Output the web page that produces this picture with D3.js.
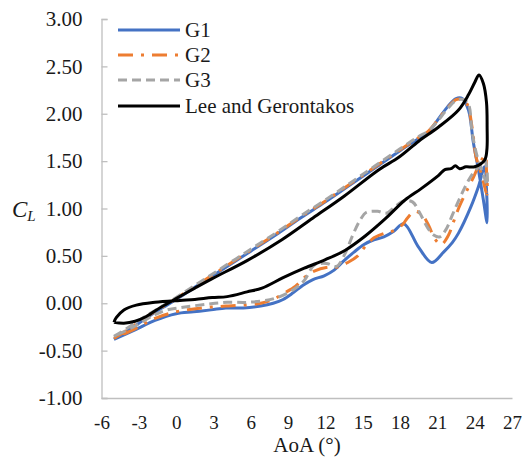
<!DOCTYPE html>
<html>
<head>
<meta charset="utf-8">
<script src="https://cdn.jsdelivr.net/npm/d3@7"></script>
<style>
  html, body { margin: 0; padding: 0; background: #fff; }
  svg { display: block; }
  text { font-family: "Liberation Serif", "Times New Roman", serif; fill: #1a1a1a; }
</style>
</head>
<body>
<svg id="chart" width="522" height="461"></svg>
<script>
// Lift coefficient loops over one pitching cycle (upstroke then downstroke)
const g1Aoa = [-5,-4,-3,-2,-1,0,2,4,6,8,10,12,14,16,18,19.5,20.3,21.0,21.8,22.5,23.0,23.5,23.9,24.3,24.7,25.0,
  24.95,24.8,24.3,23.7,22.7,22.2,21.5,20.55,19.5,18.3,17.5,16.7,15.9,15.1,14.3,13.5,12.7,11.9,11.0,10.2,9.4,8.6,7.8,6.8,5.4,4.0,2.8,1.4,0,-1.7,-3.3,-5];
const g1Cl = [-0.38,-0.30,-0.21,-0.12,-0.04,0.04,0.21,0.38,0.55,0.72,0.90,1.07,1.25,1.43,1.61,1.74,1.81,1.93,2.07,2.16,2.16,2.04,1.69,1.41,1.09,0.85,
  1.20,1.44,1.23,1.02,0.74,0.64,0.54,0.43,0.59,0.84,0.76,0.70,0.67,0.62,0.54,0.45,0.35,0.29,0.25,0.19,0.11,0.04,0.00,-0.03,-0.05,-0.05,-0.07,-0.09,-0.11,-0.18,-0.28,-0.38];

const g2Aoa = [-5,-4,-3,-2,-1,0,2,4,6,8,10,12,14,16,18,19.5,20.3,21.0,21.8,22.5,23.0,23.4,23.8,24.1,24.5,25.0,
  24.95,24.85,24.5,23.9,23.3,22.7,22.3,21.9,21.3,20.8,20.3,19.8,19.2,18.6,18.2,17.4,16.8,15.9,15.2,14.6,13.8,12.9,12.2,11.1,10.4,9.6,8.6,7.8,6.8,5.4,4.0,2.8,1.4,0,-1.7,-3.3,-5];
const g2Cl = [-0.37,-0.29,-0.20,-0.11,-0.03,0.05,0.22,0.39,0.56,0.73,0.91,1.08,1.26,1.44,1.62,1.75,1.82,1.93,2.06,2.15,2.15,2.10,1.85,1.55,1.38,1.15,
  1.40,1.56,1.50,1.33,1.17,1.00,0.86,0.72,0.62,0.68,0.82,0.93,0.97,0.90,0.83,0.76,0.74,0.69,0.60,0.50,0.43,0.38,0.38,0.34,0.28,0.18,0.10,0.04,0.00,-0.02,-0.03,-0.04,-0.06,-0.09,-0.16,-0.27,-0.37];

const g3Aoa = [-5,-4,-3,-2,-1,0,2,4,6,8,10,12,14,16,18,19.5,20.3,21.0,21.8,22.5,23.1,23.5,23.8,24.2,24.6,25.0,
  24.95,24.8,24.3,23.7,23.2,22.7,22.2,21.7,21.2,20.7,20.2,19.6,19.0,18.3,17.6,16.9,16.2,15.3,14.8,14.2,13.6,12.9,12.1,11.1,10.3,9.5,7.9,5.8,4.1,2.5,0.7,-0.7,-1.7,-3.3,-5];
const g3Cl = [-0.35,-0.27,-0.18,-0.10,-0.02,0.06,0.23,0.40,0.57,0.74,0.92,1.09,1.27,1.45,1.63,1.76,1.82,1.92,2.05,2.14,2.15,2.10,1.80,1.55,1.40,1.25,
  1.45,1.52,1.44,1.34,1.22,1.08,0.93,0.78,0.70,0.72,0.80,0.95,1.07,1.08,1.02,0.95,0.97,0.96,0.88,0.72,0.53,0.39,0.42,0.40,0.24,0.15,0.05,0.01,0.01,-0.01,-0.04,-0.07,-0.12,-0.24,-0.35];

const leeAoa = [-5,-4.2,-3.3,-2.4,-1.2,0,1.5,2.9,5.7,8.5,11,13.5,16.3,17.9,19.5,21.1,22.7,23.5,24.0,24.35,24.7,24.95,25.0,24.98,24.8,24.0,23.3,22.8,22.45,22.1,21.6,21.1,19.7,18.4,16.8,15.2,13.6,12.0,10.3,8.6,6.9,5.7,4.1,2.9,1.5,0.3,-1.7,-3.2,-4.2,-4.8,-5];
const leeCl = [-0.20,-0.21,-0.19,-0.14,-0.04,0.05,0.16,0.26,0.45,0.67,0.90,1.13,1.41,1.54,1.71,1.86,2.04,2.20,2.33,2.41,2.32,2.12,1.86,1.62,1.51,1.44,1.44,1.42,1.45,1.42,1.41,1.35,1.21,1.09,0.89,0.71,0.56,0.46,0.37,0.27,0.16,0.12,0.07,0.06,0.04,0.03,0.01,-0.02,-0.07,-0.15,-0.20];

const xTicks = [-6,-3,0,3,6,9,12,15,18,21,24,27];
const yTicks = [-1,-0.5,0,0.5,1,1.5,2,2.5,3];

const series = [
  { name: "G1", aoa: g1Aoa, cl: g1Cl, color: "#4472C4", dash: null },
  { name: "G2", aoa: g2Aoa, cl: g2Cl, color: "#ED7D31", dash: "15,8,3,8" },
  { name: "G3", aoa: g3Aoa, cl: g3Cl, color: "#A5A5A5", dash: "9,5" },
  { name: "Lee and Gerontakos", aoa: leeAoa, cl: leeCl, color: "#000000", dash: null }
];

const svg = d3.select("#chart");
const x = d3.scaleLinear().domain([-6, 27]).range([101.5, 512]);
const y = d3.scaleLinear().domain([-1, 3]).range([398, 19]);

// Axes
const axisColor = "#BFBFBF";
const yAxis = d3.axisLeft(y).tickValues(yTicks).tickSize(-6).tickPadding(19)
  .tickFormat(d => d.toFixed(2));
const gy = svg.append("g").attr("transform", `translate(${x(-6)},0)`).call(yAxis);
gy.select(".domain").attr("stroke", axisColor).attr("stroke-width", 1.3);
gy.selectAll(".tick line").attr("stroke", axisColor).attr("stroke-width", 1.3);
gy.selectAll(".tick text").attr("font-size", 21).attr("fill", "#1a1a1a");

const xAxis = d3.axisBottom(x).tickValues(xTicks).tickSize(0).tickPadding(18)
  .tickFormat(d => String(d));
const gx = svg.append("g").attr("transform", `translate(0,${y(-1)})`).call(xAxis);
gx.select(".domain").attr("stroke", axisColor).attr("stroke-width", 1.3);
gx.selectAll(".tick text").attr("font-size", 19).attr("fill", "#1a1a1a");

// Axis titles
svg.append("text").attr("x", 307).attr("y", 452).attr("text-anchor", "middle")
  .attr("font-size", 21).text("AoA (°)");
const cl = svg.append("text").attr("x", 12).attr("y", 217).attr("font-size", 23).attr("font-style", "italic");
cl.append("tspan").text("C");
cl.append("tspan").attr("font-size", 15).attr("dy", 4).text("L");

// Curves
const line = d3.line()
  .x(d => x(d[0]))
  .y(d => y(d[1]))
  .curve(d3.curveCatmullRom.alpha(0.5));

svg.append("g").selectAll("path")
  .data(series)
  .join("path")
  .attr("d", s => line(s.aoa.map((a, i) => [a, s.cl[i]])))
  .attr("fill", "none")
  .attr("stroke", s => s.color)
  .attr("stroke-width", 3)
  .attr("stroke-dasharray", s => s.dash)
  .attr("stroke-linejoin", "round");

// Legend
const legend = svg.append("g");
const legendY = [30, 55, 80, 106];
series.forEach((s, i) => {
  legend.append("line")
    .attr("x1", 118).attr("x2", 180)
    .attr("y1", legendY[i]).attr("y2", legendY[i])
    .attr("stroke", s.color).attr("stroke-width", 3)
    .attr("stroke-dasharray", s.dash);
  legend.append("text")
    .attr("x", 185).attr("y", legendY[i] + 7)
    .attr("font-size", 21)
    .text(s.name);
});
</script>
</body>
</html>
